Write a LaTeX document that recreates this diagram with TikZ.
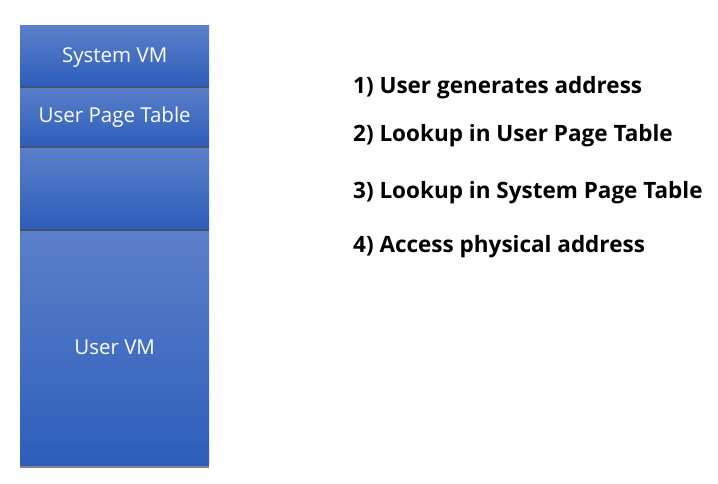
\documentclass[tikz,border=0pt]{standalone}
\usepackage{fontspec}
\setmainfont{Open Sans}
\usetikzlibrary{shadows}

\definecolor{boxtop}{HTML}{5B80CA}
\definecolor{boxbot}{HTML}{2E5EBA}
\tikzset{
  membox/.style={anchor=north west, minimum width=189pt, inner sep=0pt,
    top color=boxtop, bottom color=boxbot, text depth=0pt,
    text=white, font=\fontsize{20.5}{24}\selectfont,
    drop shadow={shadow xshift=0pt, shadow yshift=-3pt, fill=black!80, opacity=0.6}},
  steptext/.style={anchor=base west, inner sep=0pt, font=\fontsize{22.5}{26}\selectfont\bfseries}
}

\begin{document}
\begin{tikzpicture}[x=1pt,y=-1pt]
\useasboundingbox (0,0) rectangle (718,484);

% memory layout, bottom box first so shadows fall on the one below
\node[membox, minimum height=236pt] (uservm) at (20,229) {User VM};
\node[membox, minimum height=82pt] (blank) at (20,146) {};
\node[membox, minimum height=60pt] (upt) at (20,85) {User Page Table};
\node[membox, minimum height=60pt] (sysvm) at (20,25) {System VM};

% steps
\node[steptext] (s1) at (353,94) {1) User generates address};
\node[steptext] (s2) at (353,142) {2) Lookup in User Page Table};
\node[steptext] (s3) at (353,198) {3) Lookup in System Page Table};
\node[steptext] (s4) at (353,252) {4) Access physical address};

\end{tikzpicture}
\end{document}
